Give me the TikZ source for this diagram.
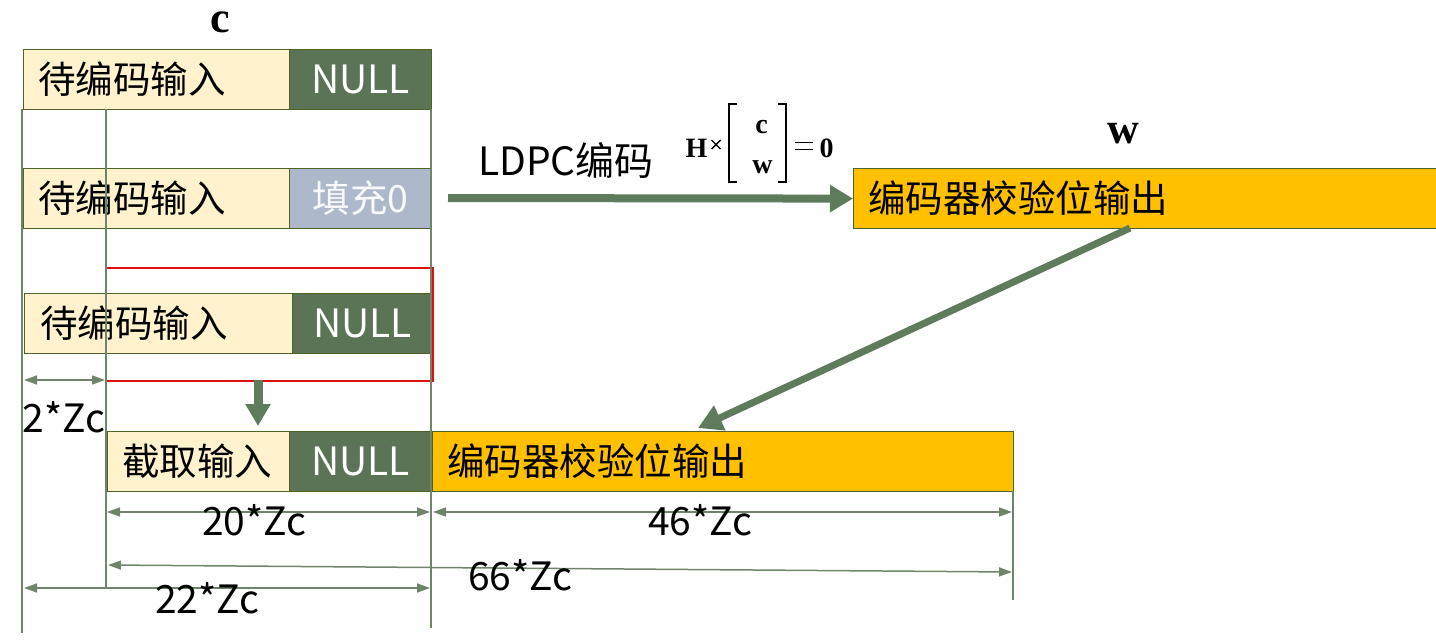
\documentclass[tikz,border=0pt]{standalone}
\usepackage{fontspec}
\newfontfamily\cjk{Noto Sans CJK SC}
\newfontfamily\tms{Liberation Serif}
\usetikzlibrary{arrows.meta}
\definecolor{creamc}{HTML}{FFF2CC}
\definecolor{nullg}{HTML}{5B7455}
\definecolor{grayb}{HTML}{ADB9CA}
\definecolor{orangec}{HTML}{FFC000}
\definecolor{arrowg}{HTML}{5E7B5B}
\definecolor{bordc}{HTML}{4F6228}
\definecolor{dimc}{HTML}{6F856A}
\definecolor{redc}{HTML}{E01010}
\begin{document}
\begin{tikzpicture}[x=1pt,y=-1pt,
  box/.style={draw=bordc, line width=1.2pt, inner sep=0pt, anchor=north west, minimum height=60},
  cbox/.style={box, fill=creamc},
  nbox/.style={box, fill=nullg},
  gbox/.style={box, fill=grayb},
  obox/.style={box, fill=orangec},
  txt/.style={font=\cjk\fontsize{37.5}{42}\selectfont, inner sep=0pt, text=black},
  ltxt/.style={font=\cjk\fontsize{39}{44}\selectfont, inner sep=0pt, text=black},
  wtxt/.style={ltxt, text=white},
  vline/.style={draw=dimc, line width=1.5pt},
  dim/.style={draw=dimc, line width=1.5pt, {Triangle[length=13pt,width=9pt]}-{Triangle[length=13pt,width=9pt]}},
  bigarrow/.style={draw=arrowg, line width=8pt, -{Triangle[length=23pt,width=26pt]}},
  bold/.style={font=\tms\bfseries\fontsize{44}{48}\selectfont, inner sep=0pt},
  ftxt/.style={font=\tms\bfseries\fontsize{28}{32}\selectfont, inner sep=0pt, anchor=base},
  brk/.style={draw=black, line width=1.4pt},
  opline/.style={draw=black, line width=1.4pt}
]
\useasboundingbox (0,0) rectangle (1436,643);

% labels c, w
\node[bold, anchor=base] (lc) at (220,32) {c};
\node[bold, anchor=base] (lw) at (1123,143) {w};

% Row 1
\node[cbox, minimum width=266] (r1a) at (23,49) {};
\node[nbox, minimum width=142] (r1b) at (289,49) {};
\node[txt, anchor=west] (t1a) at ([xshift=15]r1a.west) {待编码输入};
\node[wtxt] (t1b) at (r1b.center) {NULL};

% Row 2
\node[cbox, minimum width=266] (r2a) at (23,168) {};
\node[gbox, minimum width=142] (r2b) at (289,168) {};
\node[txt, anchor=west] (t2a) at ([xshift=15]r2a.west) {待编码输入};
\node[txt, text=white!92!grayb] (t2b) at (r2b.center) {填充0};

% Row 3
\node[cbox, minimum width=268] (r3a) at (24,293) {};
\node[nbox, minimum width=140] (r3b) at (292,293) {};
\node[txt, anchor=west] (t3a) at ([xshift=16]r3a.west) {待编码输入};
\node[wtxt] (t3b) at (r3b.center) {NULL};

% red frame
\node[draw=redc, line width=1.5pt, inner sep=0pt, anchor=north west, minimum width=327, minimum height=113] (red) at (105,267) {};

% Row 4
\node[cbox, minimum width=182] (r4a) at (107,431) {};
\node[nbox, minimum width=142] (r4b) at (289,431) {};
\node[obox, minimum width=581] (r4c) at (432,431) {};
\node[txt, anchor=west] (t4a) at ([xshift=15]r4a.west) {截取输入};
\node[wtxt] (t4b) at (r4b.center) {NULL};
\node[txt, anchor=west] (t4c) at ([xshift=15]r4c.west) {编码器校验位输出};

% top orange box
\node[obox, minimum width=583] (ob) at (853,168) {};
\node[txt, anchor=west] (tob) at ([xshift=15]ob.west) {编码器校验位输出};

% LDPC arrow and label
\coordinate (la) at (448,198);
\draw[bigarrow] (la) -- (ob.west);
\node[ltxt] (ldpc) at (566,160) {LDPC编码};

% formula H x [c; w] = 0
\node[ftxt] (fH) at (696.5,157) {H};
\draw[opline] (711.5,140) -- (720.5,149) (711.5,149) -- (720.5,140);
\draw[brk] (737,104) -- (729,104) -- (729,182) -- (737,182);
\draw[brk] (778,104) -- (786,104) -- (786,182) -- (778,182);
\node[ftxt] (fc) at (761.5,133) {c};
\node[ftxt] (fw) at (762.5,173) {w};
\draw[opline] (795,142.5) -- (813,142.5) (795,149.5) -- (813,149.5);
\node[ftxt] (f0) at (826.5,157) {0};

% diagonal arrow
\coordinate (ds) at (1130,228);
\coordinate (de) at (698,428);
\draw[draw=arrowg, line width=7pt, -{Triangle[length=24pt,width=26pt]}] (ds) -- (de);

% down arrow
\coordinate (da) at (258,380);
\coordinate (db) at (258,426);
\draw[draw=arrowg, line width=9pt, -{Triangle[length=22pt,width=24pt]}] (da) -- (db);

% vertical guide lines
\coordinate (v1a) at (22,109); \coordinate (v1b) at (22,633);
\coordinate (v2a) at (106,109); \coordinate (v2b) at (106,588);
\coordinate (v3a) at (431,109); \coordinate (v3b) at (431,628);
\coordinate (v4a) at (1013,491); \coordinate (v4b) at (1013,600);
\draw[vline] (v1a) -- (v1b);
\draw[vline] (v2a) -- (v2b);
\draw[vline] (v3a) -- (v3b);
\draw[vline] (v4a) -- (v4b);

% dimension arrows
\coordinate (d1a) at (24,380); \coordinate (d1b) at (105,380);
\coordinate (d2a) at (107,512); \coordinate (d2b) at (430,512);
\coordinate (d3a) at (433,512); \coordinate (d3b) at (1012,512);
\coordinate (d4a) at (108,565); \coordinate (d4b) at (1012,572);
\coordinate (d5a) at (24,588); \coordinate (d5b) at (430,588);
\draw[dim] (d1a) -- (d1b);
\draw[dim] (d2a) -- (d2b);
\draw[dim] (d3a) -- (d3b);
\draw[dim] (d4a) -- (d4b);
\draw[dim] (d5a) -- (d5b);

\node[ltxt] (z2) at (64,417) {2*Zc};
\node[ltxt] (z20) at (254,520) {20*Zc};
\node[ltxt] (z46) at (700,520) {46*Zc};
\node[ltxt] (z66) at (520,575) {66*Zc};
\node[ltxt] (z22) at (207,598) {22*Zc};
\end{tikzpicture}
\end{document}
